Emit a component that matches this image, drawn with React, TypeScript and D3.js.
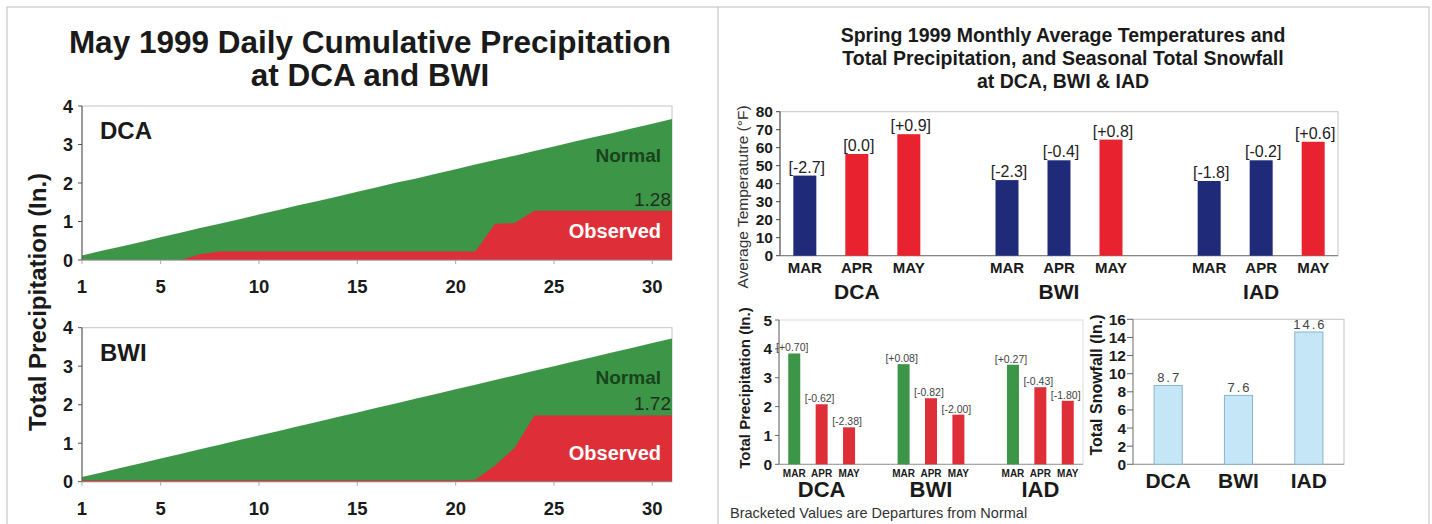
import * as React from 'react'
import { useEffect, useRef } from 'react'
import * as d3 from 'd3'

const days = [1, 2, 3, 4, 5, 6, 7, 8, 9, 10, 11, 12, 13, 14, 15, 16, 17, 18, 19, 20, 21, 22, 23, 24, 25, 26, 27, 28, 29, 30, 31]
const dayTicks = [1, 5, 10, 15, 20, 25, 30]

// cumulative precipitation, inches
const dcaNormal = [0.12, 0.24, 0.35, 0.47, 0.59, 0.71, 0.83, 0.94, 1.06, 1.18, 1.30, 1.42, 1.53, 1.65, 1.77, 1.89, 2.01, 2.12, 2.24, 2.36, 2.48, 2.60, 2.71, 2.83, 2.95, 3.07, 3.19, 3.30, 3.42, 3.54, 3.66]
const dcaObserved = [0, 0, 0, 0, 0, 0, 0.15, 0.22, 0.22, 0.22, 0.22, 0.22, 0.22, 0.22, 0.22, 0.22, 0.22, 0.22, 0.22, 0.22, 0.22, 0.94, 0.96, 1.28, 1.28, 1.28, 1.28, 1.28, 1.28, 1.28, 1.28]
const bwiNormal = [0.12, 0.24, 0.36, 0.48, 0.60, 0.72, 0.84, 0.96, 1.08, 1.20, 1.32, 1.44, 1.56, 1.68, 1.80, 1.92, 2.04, 2.16, 2.28, 2.40, 2.52, 2.64, 2.76, 2.88, 3.00, 3.12, 3.24, 3.36, 3.48, 3.60, 3.72]
const bwiObserved = [0.04, 0.04, 0.04, 0.04, 0.04, 0.04, 0.04, 0.04, 0.04, 0.04, 0.04, 0.04, 0.04, 0.04, 0.04, 0.04, 0.04, 0.04, 0.04, 0.04, 0.05, 0.42, 0.88, 1.72, 1.72, 1.72, 1.72, 1.72, 1.72, 1.72, 1.72]

const stations = ['DCA', 'BWI', 'IAD']
const months = ['MAR', 'APR', 'MAY']

const tempDCA = [44.5, 56.5, 67.5]
const tempBWI = [42, 53, 64.5]
const tempIAD = [41.5, 53, 63.3]
const tempDepDCA = ['-2.7', '0.0', '+0.9']
const tempDepBWI = ['-2.3', '-0.4', '+0.8']
const tempDepIAD = ['-1.8', '-0.2', '+0.6']

const precipDCA = [3.84, 2.08, 1.28]
const precipBWI = [3.47, 2.29, 1.72]
const precipIAD = [3.45, 2.67, 2.20]
const precipDepDCA = ['+0.70', '-0.62', '-2.38']
const precipDepBWI = ['+0.08', '-0.82', '-2.00']
const precipDepIAD = ['+0.27', '-0.43', '-1.80']

const snowfall = [8.7, 7.6, 14.6]

const tempTicks = [0, 10, 20, 30, 40, 50, 60, 70, 80]
const precipTicks = [0, 1, 2, 3, 4, 5]
const snowTicks = [0, 2, 4, 6, 8, 10, 12, 14, 16]
const cumTicks = [0, 1, 2, 3, 4]

const FONT = '"Liberation Sans", Arial, Helvetica, sans-serif'
const GREEN = '#3d9547'
const RED = '#de2f39'
const NAVY = '#1f2a78'
const TRED = '#e8222e'
const FRAME = '#c4c4c4'

type G = d3.Selection<SVGGElement, unknown, null, undefined>

function txt(g: G, x: number, y: number, s: string, size: number, opts: any = {}) {
  const t = g.append('text')
    .attr('x', x).attr('y', y)
    .attr('font-family', FONT)
    .attr('font-size', size)
    .attr('font-weight', opts.weight || 'bold')
    .attr('text-anchor', opts.anchor || 'middle')
    .attr('fill', opts.fill || '#1a1a1a')
    .text(s)
  if (opts.spacing) t.attr('letter-spacing', opts.spacing)
  if (opts.rotate) t.attr('transform', `rotate(-90,${x},${y})`)
  return t
}

function drawCumulative(g: G, y0: number, station: string, normal: number[], observed: number[], total: string) {
  const x = d3.scaleLinear().domain([1, 31]).range([82, 672])
  const y = d3.scaleLinear().domain([0, 4]).range([y0, y0 - 154])

  g.append('rect').attr('x', x(1)).attr('y', y(4)).attr('width', x(31) - x(1)).attr('height', y(0) - y(4))
    .attr('fill', 'none').attr('stroke', FRAME)

  const area = (vals: number[]) => d3.area<number>()
    .x((d, i) => x(days[i]))
    .y0(y(0))
    .y1(d => y(d))(vals)

  g.append('path').attr('d', area(normal)).attr('fill', GREEN)
  g.append('path').attr('d', area(observed)).attr('fill', RED)

  g.append('line').attr('x1', x(1)).attr('x2', x(1)).attr('y1', y(4)).attr('y2', y(0)).attr('stroke', '#555')
  g.append('line').attr('x1', x(1)).attr('x2', x(31)).attr('y1', y(0)).attr('y2', y(0)).attr('stroke', '#888')

  cumTicks.forEach(t => {
    g.append('line').attr('x1', x(1) - 4).attr('x2', x(1)).attr('y1', y(t)).attr('y2', y(t)).attr('stroke', '#555')
    txt(g, 73, y(t) + 6.5, String(t), 18, { anchor: 'end' })
  })
  dayTicks.forEach(t => {
    g.append('line').attr('x1', x(t)).attr('x2', x(t)).attr('y1', y(0)).attr('y2', y(0) + 4).attr('stroke', '#aaa')
    txt(g, x(t), y(0) + 33, String(t), 18.5)
  })

  const last = observed[observed.length - 1]
  txt(g, 100, y0 - 121, station, 24, { anchor: 'start' })
  txt(g, 661, y0 - 98, 'Normal', 19, { anchor: 'end', fill: '#17441c' })
  txt(g, 671, y(last) - 5, total, 19, { anchor: 'end', weight: 'normal', fill: '#1f2f1f' })
  txt(g, 661, y0 - 22, 'Observed', 20, { anchor: 'end', fill: '#fff' })
}

function drawTemperature(g: G) {
  const x = d3.scalePoint<string>().domain(stations).range([780, 1338]).padding(0.38)
  const xm = d3.scalePoint<string>().domain(months).range([-52, 52])
  const y = d3.scaleLinear().domain([0, 80]).range([255.7, 111.7])
  const bw = 23
  const vals = [tempDCA, tempBWI, tempIAD]
  const deps = [tempDepDCA, tempDepBWI, tempDepIAD]

  g.append('rect').attr('x', 780).attr('y', y(80)).attr('width', 558).attr('height', y(0) - y(80))
    .attr('fill', 'none').attr('stroke', FRAME)
  g.append('line').attr('x1', 780).attr('x2', 780).attr('y1', y(80)).attr('y2', y(0)).attr('stroke', '#444')
  g.append('line').attr('x1', 780).attr('x2', 1338).attr('y1', y(0)).attr('y2', y(0)).attr('stroke', '#777')

  tempTicks.forEach(t => {
    g.append('line').attr('x1', 776).attr('x2', 780).attr('y1', y(t)).attr('y2', y(t)).attr('stroke', '#444')
    txt(g, 773, y(t) + 5.5, String(t), 15.5, { anchor: 'end' })
  })

  stations.forEach((s, si) => {
    months.forEach((m, mi) => {
      const cx = x(s)! + xm(m)!
      const v = vals[si][mi]
      const dep = deps[si][mi]
      g.append('rect').attr('x', cx - bw / 2).attr('y', y(v)).attr('width', bw).attr('height', y(0) - y(v))
        .attr('fill', dep.startsWith('-') ? NAVY : TRED)
      txt(g, cx + 2, y(v) - 3, `[${dep}]`, 16, { weight: 'normal', fill: '#222' })
      txt(g, cx, 273, m, 15)
    })
    txt(g, x(s)!, 299, s, 21)
  })

  txt(g, 748, 197, 'Average Temperatutre (°F)', 15.5, { weight: 'normal', rotate: true, fill: '#333' })
}

function drawPrecip(g: G) {
  const x = d3.scalePoint<string>().domain(stations).range([779, 1083]).padding(0.39)
  const xm = d3.scalePoint<string>().domain(months).range([-27.4, 27.4])
  const y = d3.scaleLinear().domain([0, 5]).range([464.3, 320])
  const bw = 12
  const vals = [precipDCA, precipBWI, precipIAD]
  const deps = [precipDepDCA, precipDepBWI, precipDepIAD]

  g.append('rect').attr('x', 779).attr('y', y(5)).attr('width', 304).attr('height', y(0) - y(5))
    .attr('fill', 'none').attr('stroke', '#ddd')
  g.append('line').attr('x1', 779).attr('x2', 779).attr('y1', y(5)).attr('y2', y(0)).attr('stroke', '#666')
  g.append('line').attr('x1', 779).attr('x2', 1083).attr('y1', y(0)).attr('y2', y(0)).attr('stroke', '#999')

  precipTicks.forEach(t => {
    g.append('line').attr('x1', 775).attr('x2', 779).attr('y1', y(t)).attr('y2', y(t)).attr('stroke', '#666')
    txt(g, 772, y(t) + 5.5, String(t), 15.5, { anchor: 'end' })
  })

  stations.forEach((s, si) => {
    months.forEach((m, mi) => {
      const cx = x(s)! + xm(m)!
      const v = vals[si][mi]
      const dep = deps[si][mi]
      g.append('rect').attr('x', cx - bw / 2).attr('y', y(v)).attr('width', bw).attr('height', y(0) - y(v))
        .attr('fill', dep.startsWith('-') ? RED : GREEN)
      txt(g, cx - 2, y(v) - 2, `[${dep}]`, 10.5, { weight: 'normal', fill: '#444' })
      txt(g, cx, 477, m, 10)
    })
    txt(g, x(s)!, 497, s, 22)
  })

  txt(g, 750, 388, 'Total Precipitation (In.)', 15, { rotate: true })
  txt(g, 730, 518, 'Bracketed Values are Departures from Normal', 14.5, { anchor: 'start', weight: 'normal', fill: '#333' })
}

function drawSnow(g: G) {
  const x = d3.scaleBand<string>().domain(stations).range([1133, 1344]).paddingInner(0.6).paddingOuter(0.3)
  const y = d3.scaleLinear().domain([0, 16]).range([464.3, 319.3])

  g.append('rect').attr('x', 1133).attr('y', y(16)).attr('width', 211).attr('height', y(0) - y(16))
    .attr('fill', 'none').attr('stroke', FRAME)
  g.append('line').attr('x1', 1133).attr('x2', 1133).attr('y1', y(16)).attr('y2', y(0)).attr('stroke', '#888')
  g.append('line').attr('x1', 1133).attr('x2', 1344).attr('y1', y(0)).attr('y2', y(0)).attr('stroke', '#999')

  snowTicks.forEach(t => {
    g.append('line').attr('x1', 1127).attr('x2', 1133).attr('y1', y(t)).attr('y2', y(t)).attr('stroke', '#666')
    txt(g, 1126, y(t) + 5.5, String(t), 15.5, { anchor: 'end' })
  })

  stations.forEach((s, i) => {
    const v = snowfall[i]
    g.append('rect').attr('x', x(s)!).attr('y', y(v)).attr('width', x.bandwidth()).attr('height', y(0) - y(v))
      .attr('fill', '#c4e6f7').attr('stroke', '#8ab4cc')
    txt(g, x(s)! + x.bandwidth() / 2 + 1, y(v) - 3, v.toFixed(1), 13, { weight: 'normal', fill: '#444', spacing: 2 })
    txt(g, x(s)! + x.bandwidth() / 2, 488, s, 21)
  })

  txt(g, 1102, 385, 'Total Snowfall (In.)', 16, { rotate: true })
}

export default function App() {
  const svgRef = useRef<SVGSVGElement | null>(null)

  useEffect(() => {
    const svg = d3.select(svgRef.current!)
    svg.selectAll('*').remove()
    const g = svg.append('g') as unknown as G

    g.append('rect').attr('width', 1432).attr('height', 524).attr('fill', '#fff')
    // panel frames
    g.append('rect').attr('x', 7).attr('y', 7).attr('width', 1422).attr('height', 530)
      .attr('fill', 'none').attr('stroke', '#bdbdbd')
    g.append('line').attr('x1', 718).attr('x2', 718).attr('y1', 7).attr('y2', 524).attr('stroke', '#bdbdbd')

    txt(g, 370, 53, 'May 1999 Daily Cumulative Precipitation', 31.5)
    txt(g, 370, 86, 'at DCA and BWI', 31.5)
    txt(g, 38, 302, 'Total Precipitation (In.)', 24, { rotate: true, anchor: 'middle' }).attr('dy', '0.35em')

    drawCumulative(g, 260, 'DCA', dcaNormal, dcaObserved, '1.28')
    drawCumulative(g, 481.7, 'BWI', bwiNormal, bwiObserved, '1.72')

    txt(g, 1063, 42, 'Spring 1999 Monthly Average Temperatures and', 19.5)
    txt(g, 1063, 65, 'Total Precipitation, and Seasonal Total Snowfall', 19.5)
    txt(g, 1063, 88, 'at DCA, BWI & IAD', 19.5)

    drawTemperature(g)
    drawPrecip(g)
    drawSnow(g)
  }, [])

  return (
    <div style={{ position: 'absolute', left: 0, top: 0 }}>
      <svg ref={svgRef} width={1432} height={524} style={{ display: 'block' }} />
    </div>
  )
}
